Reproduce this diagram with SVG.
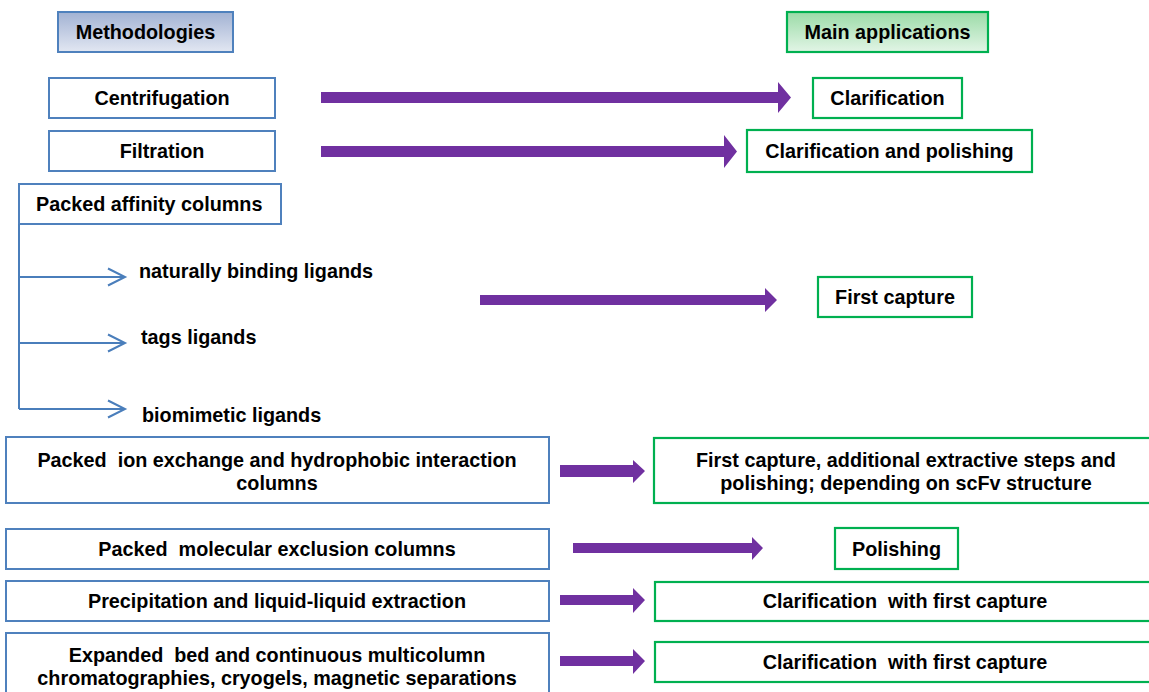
<svg xmlns="http://www.w3.org/2000/svg" width="1149" height="692" viewBox="0 0 1149 692">
<defs>
<linearGradient id="gBlue" x1="0" y1="0" x2="0" y2="1"><stop offset="0" stop-color="#a2b2d3"/><stop offset="1" stop-color="#e2e7f2"/></linearGradient>
<linearGradient id="gGreen" x1="0" y1="0" x2="0" y2="1"><stop offset="0" stop-color="#9bdba7"/><stop offset="1" stop-color="#e2f5e6"/></linearGradient>
<marker id="chev" markerUnits="userSpaceOnUse" markerWidth="24" markerHeight="24" refX="18" refY="10" orient="auto" overflow="visible"><path d="M1,1.5 L18,10 L1,18.5" fill="none" stroke="#4a7ebb" stroke-width="2"/></marker>
</defs>
<style>
.bl{fill:#fff;stroke:#4f81bd;stroke-width:2}
.gr{fill:#fff;stroke:#00b050;stroke-width:2.2}
text{font-family:"Liberation Sans",Arial,Helvetica,sans-serif;font-weight:bold;font-size:19.8px;fill:#000;white-space:pre}
.c{text-anchor:middle}
.arr{fill:#7030a0}
.br{stroke:#4a7ebb;stroke-width:2;fill:none}
</style>
<rect width="1149" height="692" fill="#fff"/>
<g id="methodologies"><rect x="58" y="12" width="175" height="40" fill="url(#gBlue)" stroke="#4f81bd" stroke-width="2"/><text class="c" x="145.5" y="39">Methodologies</text></g>
<g id="main-applications"><rect x="787" y="12" width="201" height="40" fill="url(#gGreen)" stroke="#00b050" stroke-width="2.2"/><text class="c" x="887.5" y="39">Main applications</text></g>
<g id="centrifugation"><rect class="bl" x="49" y="78" width="226" height="40"/><text class="c" x="162" y="105">Centrifugation</text></g>
<g id="filtration"><rect class="bl" x="49" y="131" width="226" height="40"/><text class="c" x="162" y="158">Filtration</text></g>
<g id="affinity"><rect class="bl" x="19" y="184" width="262" height="40"/><text x="36" y="211">Packed affinity columns</text></g>
<g id="natural"><text x="139" y="278">naturally binding ligands</text></g>
<g id="tags"><text x="141" y="344">tags ligands</text></g>
<g id="biomimetic"><text x="142" y="422">biomimetic ligands</text></g>
<g id="ionexchange"><rect class="bl" x="6" y="437" width="543" height="66"/><text class="c" x="277" y="467">Packed  ion exchange and hydrophobic interaction</text><text class="c" x="277" y="490">columns</text></g>
<g id="molecular"><rect class="bl" x="6" y="529" width="543" height="40"/><text class="c" x="277" y="556">Packed  molecular exclusion columns</text></g>
<g id="precipitation"><rect class="bl" x="6" y="581" width="543" height="40"/><text class="c" x="277" y="608">Precipitation and liquid-liquid extraction</text></g>
<g id="expanded"><rect class="bl" x="6" y="633" width="543" height="70"/><text class="c" x="277" y="662">Expanded  bed and continuous multicolumn</text><text class="c" x="277" y="685">chromatographies, cryogels, magnetic separations</text></g>
<g id="clarification"><rect class="gr" x="813" y="78" width="149" height="40"/><text class="c" x="887.5" y="105">Clarification</text></g>
<g id="clar-polish"><rect class="gr" x="747" y="130" width="285" height="42"/><text class="c" x="889.5" y="158">Clarification and polishing</text></g>
<g id="first-capture"><rect class="gr" x="818" y="277" width="154" height="40"/><text class="c" x="895" y="304">First capture</text></g>
<g id="first-capture-steps"><rect class="gr" x="654" y="438" width="510" height="65"/><text class="c" x="906" y="467">First capture, additional extractive steps and</text><text class="c" x="906" y="490">polishing; depending on scFv structure</text></g>
<g id="polishing"><rect class="gr" x="835" y="528" width="123" height="41"/><text class="c" x="896.5" y="556">Polishing</text></g>
<g id="clar-first-1"><rect class="gr" x="655" y="582" width="510" height="39"/><text class="c" x="905" y="608">Clarification  with first capture</text></g>
<g id="clar-first-2"><rect class="gr" x="655" y="642" width="510" height="40"/><text class="c" x="905" y="669">Clarification  with first capture</text></g>
<g id="connectors">
<path class="br" d="M19,224 V409"/>
<path class="br" d="M19,277 H125" marker-end="url(#chev)"/>
<path class="br" d="M19,343 H125" marker-end="url(#chev)"/>
<path class="br" d="M19,409 H125" marker-end="url(#chev)"/>
<path class="arr" d="M321,92 H778 V82 L791,97.5 L778,113 V103 H321 Z"/>
<path class="arr" d="M321,146 H724 V135 L737,151.5 L724,168 V157 H321 Z"/>
<path class="arr" d="M480,295 H765 V288 L777,300 L765,312 V305 H480 Z"/>
<path class="arr" d="M560,465 H633 V460 L645,471 L633,483 V477 H560 Z"/>
<path class="arr" d="M573,543 H752 V537 L763,548 L752,560 V553 H573 Z"/>
<path class="arr" d="M560,595 H633 V588 L645,600 L633,613 V605 H560 Z"/>
<path class="arr" d="M560,656 H633 V649 L645,661 L633,674 V666 H560 Z"/>
</g>
</svg>
